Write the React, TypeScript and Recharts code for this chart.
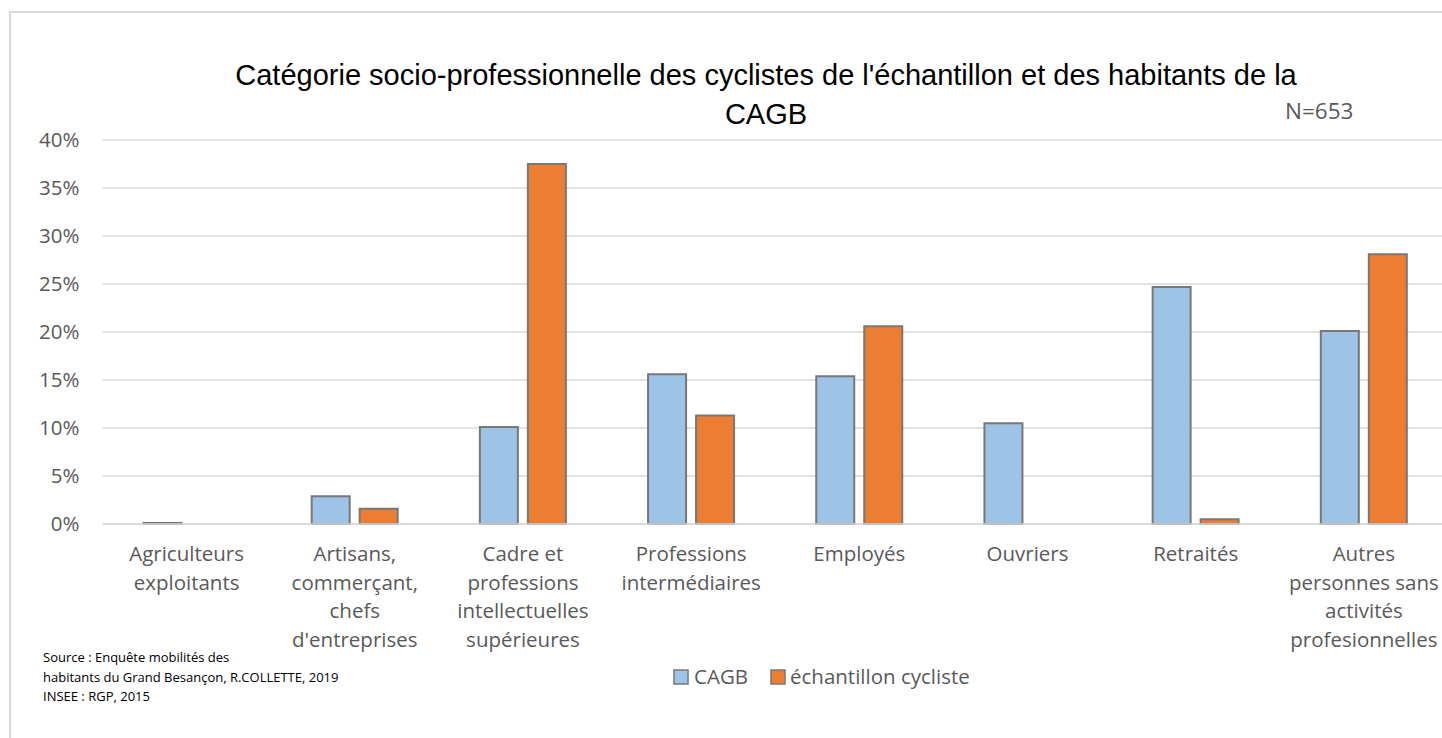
import React from 'react';
import { BarChart, Bar, XAxis, YAxis, CartesianGrid } from 'recharts';

const categories = [
  'Agriculteurs exploitants',
  'Artisans, commerçant, chefs d\'entreprises',
  'Cadre et professions intellectuelles supérieures',
  'Professions intermédiaires',
  'Employés',
  'Ouvriers',
  'Retraités',
  'Autres personnes sans activités profesionnelles',
];

const categoryLines = [
  ['Agriculteurs', 'exploitants'],
  ['Artisans,', 'commerçant,', 'chefs', "d'entreprises"],
  ['Cadre et', 'professions', 'intellectuelles', 'supérieures'],
  ['Professions', 'intermédiaires'],
  ['Employés'],
  ['Ouvriers'],
  ['Retraités'],
  ['Autres', 'personnes sans', 'activités', 'profesionnelles'],
];

const cagb = [0.1, 2.9, 10.1, 15.6, 15.4, 10.5, 24.7, 20.1];
const echantillon = [0, 1.6, 37.5, 11.3, 20.6, 0, 0.5, 28.1];

const yTicks = [0, 5, 10, 15, 20, 25, 30, 35, 40];

const data = categories.map((name, i) => ({
  name,
  cagb: cagb[i],
  echantillon: echantillon[i],
}));

const FONT = '"Open Sans", sans-serif';
const GREY_TEXT = '#595959';

const CategoryTick = (props: any) => {
  const { x, y, index } = props;
  const lines = categoryLines[index] || [];
  return (
    <g>
      {lines.map((line, i) => (
        <text
          key={i}
          x={x}
          y={y + 29 + i * 28.5}
          textAnchor="middle"
          fontFamily={FONT}
          fontSize={20.5}
          fill={GREY_TEXT}
        >
          {line}
        </text>
      ))}
    </g>
  );
};

export default function App() {
  return (
    <div
      style={{
        position: 'absolute',
        left: 0,
        top: 0,
        width: 1442,
        height: 738,
        overflow: 'hidden',
        background: '#fff',
      }}
    >
      <div
        style={{
          position: 'absolute',
          left: 9,
          top: 11,
          width: 1500,
          height: 800,
          border: '2px solid #d9d9d9',
        }}
      />
      <div style={{ position: 'absolute', left: 0, top: 0 }}>
        <BarChart
          width={1460}
          height={738}
          data={data}
          margin={{ top: 140, right: 12, bottom: 0, left: 0 }}
          barSize={38}
          barGap={10}
        >
          <CartesianGrid vertical={false} stroke="#d9d9d9" strokeWidth={1.5} />
          <XAxis
            dataKey="name"
            height={214}
            axisLine={{ stroke: '#d9d9d9', strokeWidth: 1.5 }}
            tickLine={false}
            interval={0}
            tick={<CategoryTick />}
          />
          <YAxis
            width={102.5}
            domain={[0, 40]}
            ticks={yTicks}
            axisLine={false}
            tickLine={false}
            tickMargin={17}
            tickFormatter={(v: number) => `${v}%`}
            tick={{ fontFamily: FONT, fontSize: 20.5, fill: GREY_TEXT }}
          />
          <Bar
            dataKey="cagb"
            name="CAGB"
            fill="#9dc3e6"
            stroke="#787878"
            strokeWidth={2}
            isAnimationActive={false}
          />
          <Bar
            dataKey="echantillon"
            name="échantillon cycliste"
            fill="#ed7d31"
            stroke="#787878"
            strokeWidth={2}
            isAnimationActive={false}
          />
        </BarChart>
      </div>
      <svg
        width={1442}
        height={738}
        style={{ position: 'absolute', left: 0, top: 0, pointerEvents: 'none' }}
      >
        <text
          x={766}
          y={85}
          textAnchor="middle"
          fontFamily='"Liberation Sans", Arial, sans-serif'
          fontSize={29}
          fill="#000"
        >
          Catégorie socio-professionnelle des cyclistes de l'échantillon et des habitants de la
        </text>
        <text
          x={766}
          y={124}
          textAnchor="middle"
          fontFamily='"Liberation Sans", Arial, sans-serif'
          fontSize={29}
          fill="#000"
        >
          CAGB
        </text>
        <text x={1285} y={119} fontFamily={FONT} fontSize={22.5} fill={GREY_TEXT}>
          N=653
        </text>

        <rect x={674} y={670} width={14} height={14} fill="#9dc3e6" stroke="#787878" strokeWidth={1.5} />
        <text x={694} y={684} fontFamily={FONT} fontSize={20.5} fill={GREY_TEXT}>
          CAGB
        </text>
        <rect x={771} y={670} width={14} height={14} fill="#ed7d31" stroke="#787878" strokeWidth={1.5} />
        <text x={790} y={684} fontFamily={FONT} fontSize={20.5} fill={GREY_TEXT}>
          échantillon cycliste
        </text>

        <text fontFamily={FONT} fontSize={13} fill="#000">
          <tspan x={43} y={662}>Source : Enquête mobilités des</tspan>
          <tspan x={43} y={682}>habitants du Grand Besançon, R.COLLETTE, 2019</tspan>
          <tspan x={43} y={701}>INSEE : RGP, 2015</tspan>
        </text>
      </svg>
    </div>
  );
}
